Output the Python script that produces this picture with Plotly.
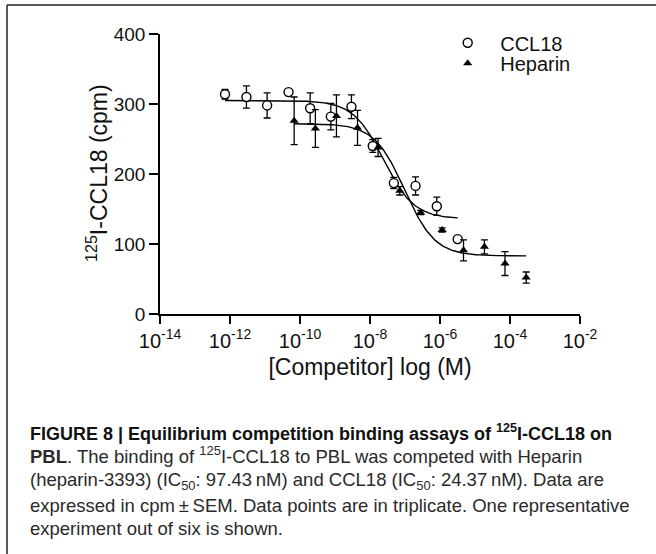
import numpy as np
import plotly.graph_objects as go

# ---------------- data ----------------
ccl18_conc = [7.2e-13, 2.95e-12, 1.15e-11, 4.7e-11, 1.95e-10, 7.6e-10,
              2.95e-9, 1.2e-8, 4.8e-8, 2.0e-7, 8.1e-7, 3.2e-6]
ccl18_cpm = [314, 310, 298, 317, 294, 282, 296, 240, 187, 183, 154, 107]
ccl18_sem = [7, 16, 18, 2, 22, 19, 17, 9, 8, 13, 13, 3]

heparin_conc = [6.8e-11, 2.75e-10, 1.1e-9, 4.4e-9, 1.7e-8, 7.1e-8,
                2.8e-7, 1.15e-6, 4.7e-6, 1.86e-5, 7.2e-5, 2.9e-4]
heparin_cpm = [276, 265, 283, 266, 238, 176, 145, 120, 91, 96, 72, 52]
heparin_sem = [34, 27, 30, 25, 13, 6, 3, 3, 15, 10, 17, 8]

# four-parameter logistic fit parameters (IC50 from the caption)
ccl18_fit = dict(top=305, bottom=136, log_ic50=np.log10(24.37e-9), hill=1.0)
heparin_fit = dict(top=272, bottom=83, log_ic50=np.log10(97.43e-9), hill=1.0)

x_tick_vals = [1e-14, 1e-12, 1e-10, 1e-8, 1e-6, 1e-4, 1e-2]
x_tick_text = ["10<sup>-14</sup>", "10<sup>-12</sup>", "10<sup>-10</sup>", "10<sup>-8</sup>",
               "10<sup>-6</sup>", "10<sup>-4</sup>", "10<sup>-2</sup>"]
y_tick_vals = [0, 100, 200, 300, 400]

x_title = "[Competitor] log (M)"
y_title = "<sup>125</sup>I-CCL18 (cpm)"

caption_lines = [
    "<b>FIGURE 8 | Equilibrium competition binding assays of <sup>125</sup>I-CCL18 on</b>",
    "<b>PBL</b>. The binding of <sup>125</sup>I-CCL18 to PBL was competed with Heparin",
    "(heparin-3393) (IC<sub>50</sub>: 97.43\u2009nM) and CCL18 (IC<sub>50</sub>: 24.37\u2009nM). Data are",
    "expressed in cpm\u2009\u00b1\u2009SEM. Data points are in triplicate. One representative",
    "experiment out of six is shown.",
]


def fit_curve(conc, p, n=200):
    lx = np.linspace(np.log10(min(conc)), np.log10(max(conc)), n)
    y = p["bottom"] + (p["top"] - p["bottom"]) / (1 + 10 ** ((lx - p["log_ic50"]) * p["hill"]))
    return 10 ** lx, y


FONT = "Arial, 'Liberation Sans', sans-serif"
W, H = 656, 554
L, R, T, B = 160, 76, 34, 240  # plot area 420 x 280
PW, PH = W - L - R, H - T - B


def px(x):
    return (x - L) / PW


def py(y):
    return (H - B - y) / PH


fig = go.Figure()

cx, cy = fit_curve(ccl18_conc, ccl18_fit)
fig.add_trace(go.Scatter(x=cx, y=cy, mode="lines", line=dict(color="black", width=1.4),
                         showlegend=False, hoverinfo="skip"))
hx, hy = fit_curve(heparin_conc, heparin_fit)
fig.add_trace(go.Scatter(x=hx, y=hy, mode="lines", line=dict(color="black", width=1.4),
                         showlegend=False, hoverinfo="skip"))

fig.add_trace(go.Scatter(
    x=ccl18_conc, y=ccl18_cpm, mode="markers", name="CCL18",
    marker=dict(symbol="circle", size=9, color="white", line=dict(color="black", width=1.4)),
    error_y=dict(type="data", array=ccl18_sem, visible=True, color="black", thickness=1.3, width=3.5),
    legend="legend"))
fig.add_trace(go.Scatter(
    x=heparin_conc, y=heparin_cpm, mode="markers", name="Heparin",
    marker=dict(symbol="triangle-up", size=8, color="black", line=dict(width=0)),
    error_y=dict(type="data", array=heparin_sem, visible=True, color="black", thickness=1.3, width=3.5),
    legend="legend2"))

annotations = []
centers = [432.0, 455.4, 481.0, 505.4, 528.7]
sizes = [18, 18.5, 18.5, 18.5, 18.5]
for i, (txt, yc, fs) in enumerate(zip(caption_lines, centers, sizes)):
    annotations.append(dict(
        text=txt, x=px(28), y=py(yc), xref="paper", yref="paper",
        xanchor="left", yanchor="middle", showarrow=False,
        font=dict(family=FONT, size=fs, color="#111" if i == 0 else "#2a2a2a")))

# y-axis title
annotations.append(dict(
    text=y_title, x=px(97), y=py(173), xref="paper", yref="paper",
    xanchor="center", yanchor="middle", textangle=-90, showarrow=False,
    font=dict(family=FONT, size=23, color="#111")))

shapes = [
    dict(type="line", xref="paper", yref="paper", x0=px(7), x1=px(7), y0=py(5), y1=py(560),
         line=dict(color="#222", width=1.5)),
    dict(type="line", xref="paper", yref="paper", x0=px(7), x1=px(660), y0=py(5), y1=py(5),
         line=dict(color="#222", width=1.5)),
]

legend_common = dict(font=dict(family=FONT, size=20, color="#111"), bgcolor="rgba(0,0,0,0)",
                     borderwidth=0, itemwidth=55, xanchor="left", yanchor="middle",
                     itemclick=False, itemdoubleclick=False)

fig.update_layout(
    width=W, height=H,
    margin=dict(l=L, r=R, t=T, b=B, pad=0),
    paper_bgcolor="white", plot_bgcolor="white",
    font=dict(family=FONT, color="#111"),
    legend=dict(x=px(435.2), y=py(42.7), **legend_common),
    legend2=dict(x=px(435.2), y=py(63.3), **legend_common),
    xaxis=dict(
        type="log", range=[-14, -2], tickvals=x_tick_vals, ticktext=x_tick_text,
        showline=True, linecolor="black", linewidth=1.5, mirror=False,
        ticks="outside", ticklen=8, tickwidth=1.5, tickcolor="black",
        showgrid=False, zeroline=False,
        tickfont=dict(family=FONT, size=20, color="#111"),
        title=dict(text=x_title, font=dict(family=FONT, size=23, color="#111"), standoff=8),
    ),
    yaxis=dict(
        range=[0, 400], tickvals=y_tick_vals,
        showline=True, linecolor="black", linewidth=1.5,
        ticks="outside", ticklen=9, tickwidth=1.5, tickcolor="black",
        showgrid=False, zeroline=False,
        tickfont=dict(family=FONT, size=19, color="#111"),
    ),
    annotations=annotations,
    shapes=shapes,
)

fig.write_html("out.html", config={"displayModeBar": False},
               post_script="document.body.style.margin='0';document.body.style.overflow='hidden';")
